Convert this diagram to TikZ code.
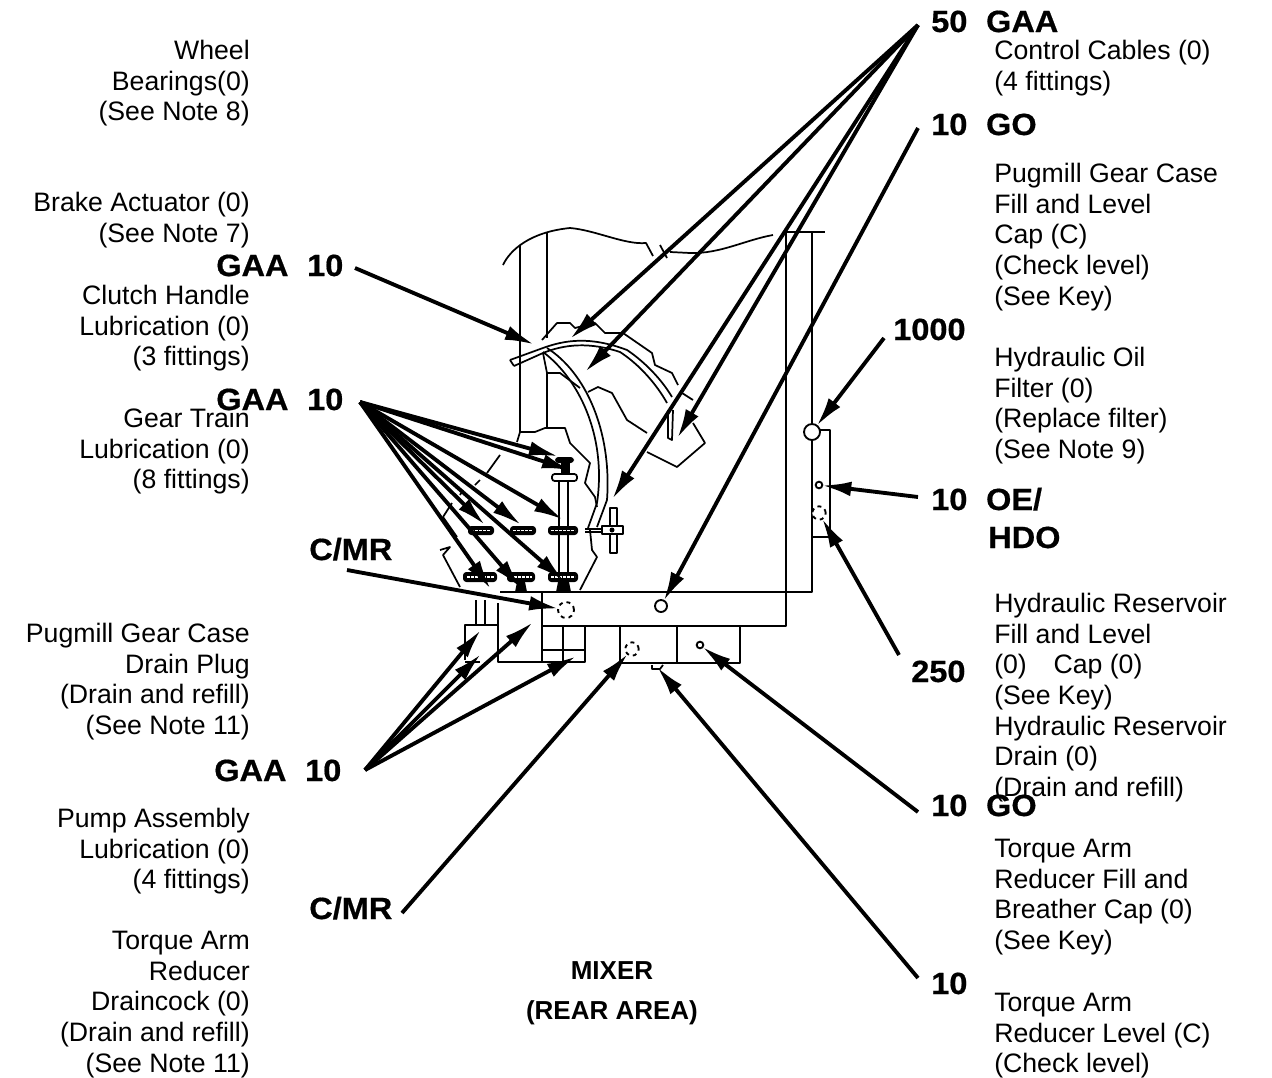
\documentclass[tikz,border=0pt]{standalone}
\usepackage{fontspec}
\setmainfont{Liberation Sans}
\newfontfamily\lubfont[FakeStretch=1.06,FakeBold=0.6]{Liberation Sans Bold}
\usetikzlibrary{arrows.meta,positioning}

\begin{document}
\begin{tikzpicture}[x=0.75pt,y=-0.75pt,
  lbl/.style={inner sep=0pt, font=\fontsize{20}{23}\selectfont},
  lblL/.style={lbl, anchor=north east, align=right},
  lblR/.style={lbl, anchor=north west, align=left},
  lub/.style={inner sep=0pt, anchor=base west, font=\fontsize{23}{26}\lubfont},
  ptr/.style={line width=2.9pt, -{Latex[length=22pt,width=11pt]}, shorten >=-1pt},
  part/.style={line width=1.3pt, line join=round},
  port/.style={draw, circle, line width=1.4pt, inner sep=0pt, fill=white},
  gearbar/.style={fill=black, rounded corners=2.5pt},
  tick/.style={white, line width=0.8pt, dash pattern=on 2pt off 1pt},
]
\useasboundingbox (0,0) rectangle (1272,1078);

% left column
\node[lblL] (wheel) at (250,40) {Wheel\\Bearings(0)\\(See Note 8)};
\node[lblL] (brake) at (250,192) {Brake Actuator (0)\\(See Note 7)};
\node[lblL] (clutch) at (250,285) {Clutch Handle\\Lubrication (0)\\(3 fittings)};
\node[lblL] (train) at (250,408) {Gear Train\\Lubrication (0)\\(8 fittings)};
\node[lblL] (drainPlug) at (250,623) {Pugmill Gear Case\\Drain Plug\\(Drain and refill)\\(See Note 11)};
\node[lblL] (pump) at (250,808) {Pump Assembly\\Lubrication (0)\\(4 fittings)};
\node[lblL] (cock) at (250,931) {Torque Arm\\Reducer\\Draincock (0)\\(Drain and refill)\\(See Note 11)};

% right column
\node[lblR] (cables) at (994,40) {Control Cables (0)\\(4 fittings)};
\node[lblR] (gearCase) at (994,163) {Pugmill Gear Case\\Fill and Level\\Cap (C)\\(Check level)\\(See Key)};
\node[lblR] (oilFilter) at (994,347) {Hydraulic Oil\\Filter (0)\\(Replace filter)\\(See Note 9)};
\node[lblR] (reservoir) at (994,593) {Hydraulic Reservoir\\Fill and Level\\(0)\quad Cap (0)\\(See Key)\\Hydraulic Reservoir\\Drain (0)\\(Drain and refill)};
\node[lblR] (breather) at (994,839) {Torque Arm\\Reducer Fill and\\Breather Cap (0)\\(See Key)};
\node[lblR] (level) at (994,993) {Torque Arm\\Reducer Level (C)\\(Check level)};

\node[inner sep=0pt, align=center, font=\fontsize{19.5}{30}\bfseries\selectfont] (mixer) at (612,993) {MIXER\\(REAR AREA)};

% intervals
\node[lub] (lub50) at (931,32) {50\hspace{14pt}GAA};
\node[lub] (lubGoA) at (931,135) {10\hspace{14pt}GO};
\node[lub] (lub1000) at (893,340) {1000};
\node[lub] (lubOe) at (931,510) {10\hspace{14pt}OE/};
\node[lub] (lubHdo) at (988,548) {HDO};
\node[lub] (lub250) at (911,682) {250};
\node[lub] (lubGoB) at (931,816) {10\hspace{14pt}GO};
\node[lub] (lub10) at (931,994) {10};
\node[lub] (lubGaaA) at (216,276) {GAA\hspace{14pt}10};
\node[lub] (lubGaaB) at (216,410) {GAA\hspace{14pt}10};
\node[lub] (lubGaaC) at (214,781) {GAA\hspace{14pt}10};
\node[lub] (lubMrA) at (309,560) {C/MR};
\node[lub] (lubMrB) at (309,919) {C/MR};

% housing
\draw[part] (503,265) .. controls (510,250) and (530,232) .. (570,228) .. controls (595,230) and (625,245) .. (646,243) -- (653,256);
\draw[part] (660,245) -- (667,258);
\draw[part] (670,252) -- (690,253) .. controls (720,254) and (745,240) .. (773,235);
\draw[part] (783,232) -- (825,232);
\draw[part] (520,245) -- (520,433);
\draw[part] (547,232) -- (547,338);
\draw[part] (547,373) -- (547,428);
\draw[part] (786,232) -- (786,626) -- (542,626);
\draw[part] (812,232) -- (812,592) -- (500,592);
\draw[part] (820,430) -- (830,430) -- (830,537) -- (812,537);

% pugmill band and boxes below it
\draw[part] (542,592) -- (542,662);
\draw[part] (498,603) -- (498,662) -- (585,662) -- (585,626);
\draw[part] (563,626) -- (563,662);
\draw[part] (542,650) -- (585,650);
\draw[part] (465,660) -- (465,625) -- (498,625);
\draw[part] (465,662) -- (480,662);
\draw[part] (476,600) -- (476,625);
\draw[part] (485,600) -- (485,625);
\draw[part] (620,626) -- (620,663) -- (740,663) -- (740,626);
\draw[part] (677,626) -- (677,663);
\draw[part] (652,665) -- (652,669) -- (660,669) -- (663,665);

% shields and torn edges
\draw[part] (542,340) -- (557,323) -- (570,323) -- (575,328) -- (595,323) -- (605,333) -- (623,333) -- (652,353) -- (655,365) -- (672,373) -- (678,385);
\draw[part] (682,393) -- (693,400);
\draw[part] (693,423) -- (705,443) -- (677,467) -- (647,452);
\draw[part] (543,353) -- (547,373) -- (560,373) -- (580,388);
\draw[part] (588,392) -- (598,387) -- (612,393) -- (627,420) -- (647,433);
\draw[part] (517,442) -- (520,432) -- (535,432) -- (545,428) -- (565,428) -- (570,443) -- (590,463) -- (585,483) -- (595,497) -- (597,507);
\draw[part] (590,530) -- (592,550) -- (597,557) -- (580,590);
\draw[part] (500,455) -- (487,473);
\draw[part] (480,480) -- (475,485);
\draw[part] (463,490) -- (460,495);
\draw[part] (452,503) -- (443,517) -- (457,537);
\draw[part] (440,550) -- (450,547) -- (443,555) -- (460,587);

% handle tubes
\draw[part] (510,360) -- (543,348) .. controls (565,340) and (590,336) .. (627,350) .. controls (645,362) and (662,380) .. (672,397);
\draw[part] (514,366) -- (543,353) .. controls (565,344) and (590,342) .. (620,352) .. controls (640,365) and (657,385) .. (667,403);
\draw[part] (510,360) -- (514,366);
\draw[part] (547,348) .. controls (585,372) and (612,430) .. (607,500) -- (597,527);
\draw[part] (543,352) .. controls (578,378) and (607,435) .. (597,503) -- (588,528);
\draw[part] (668,410) -- (668,438) -- (672,440) -- (673,410);

% gear train
\draw[part] (559,482) -- (559,590);
\draw[part] (568,482) -- (568,590);
\draw[part, fill=white, rounded corners=2pt] (552,474) rectangle (577,481);
\fill (561,463) rectangle (570,474);
\fill[gearbar] (555,457) rectangle (574,463);
\fill[gearbar] (548,526) rectangle (578,535);
\fill[gearbar] (510,526) rectangle (536,535);
\fill[gearbar] (468,526) rectangle (494,535);
\fill[gearbar] (463,572) rectangle (497,582);
\fill[gearbar] (507,572) rectangle (535,582);
\fill[gearbar] (548,572) rectangle (578,582);
\draw[tick] (551,530.5) -- (575,530.5);
\draw[tick] (513,530.5) -- (533,530.5);
\draw[tick] (471,530.5) -- (491,530.5);
\draw[tick] (467,577) -- (494,577);
\draw[tick] (510,577) -- (532,577);
\draw[tick] (551,577) -- (575,577);
\fill (517,582) -- (525,582) -- (527,592) -- (515,592) -- cycle;
\fill (558,582) -- (569,582) -- (571,592) -- (556,592) -- cycle;
\draw[part, fill=white] (610,508) rectangle (617,553);
\draw[part, fill=white] (602,526) rectangle (623,534);
\fill (612,530) circle[radius=2.5];
\draw[part] (585,529) -- (602,529);
\draw[part] (585,532) -- (602,532);

% fittings
\node[port, minimum size=12pt] (filterCap) at (812,432) {};
\node[port, minimum size=5pt] (oeFitting) at (819,485) {};
\node[port, dashed, minimum size=10pt] (hduFitting) at (819,513) {};
\node[port, minimum size=9pt] (bandFill) at (661,606) {};
\node[port, dashed, minimum size=12pt] (bandPlug) at (566,610) {};
\node[port, dashed, minimum size=10pt] (drainCock) at (632,649) {};
\node[port, minimum size=5pt] (fillCap) at (700,645) {};

% pointer ends
\coordinate (fanTop) at (918,25);
\coordinate (fanMid) at (360,402);
\coordinate (fanLow) at (365,770);
\coordinate (tipTubeA) at (571,338);
\coordinate (tipTubeB) at (586,371);
\coordinate (tipTubeC) at (613,498);
\coordinate (tipTubeD) at (678,437);
\coordinate (tipBrake) at (533,344);
\coordinate (tipGearA) at (557,456);
\coordinate (tipGearB) at (570,470);
\coordinate (tipGearC) at (562,519);
\coordinate (tipGearD) at (520,524);
\coordinate (tipGearE) at (484,524);
\coordinate (tipGearF) at (490,588);
\coordinate (tipGearG) at (520,587);
\coordinate (tipGearH) at (563,580);
\coordinate (tipPumpA) at (480,631);
\coordinate (tipPumpB) at (480,655);
\coordinate (tipPumpC) at (532,623);
\coordinate (tipPumpD) at (575,657);
\coordinate (tipLevel) at (658,668);

\draw[ptr] (fanTop) -- (tipTubeA);
\draw[ptr] (fanTop) -- (tipTubeB);
\draw[ptr] (fanTop) -- (tipTubeC);
\draw[ptr] (fanTop) -- (tipTubeD);
\coordinate (srcGo) at (918,128);
\draw[ptr] (srcGo) -- (bandFill);
\coordinate (src1000) at (884,338);
\draw[ptr] (src1000) -- (filterCap);
\coordinate (srcOe) at (918,497);
\draw[ptr] (srcOe) -- (oeFitting);
\coordinate (src250) at (899,655);
\draw[ptr] (src250) -- (hduFitting);
\coordinate (srcGoB) at (918,812);
\draw[ptr] (srcGoB) -- (fillCap);
\coordinate (src10) at (918,978);
\draw[ptr] (src10) -- (tipLevel);
\coordinate (srcGaa) at (355,268);
\draw[ptr] (srcGaa) -- (tipBrake);
\draw[ptr] (fanMid) -- (tipGearA);
\draw[ptr] (fanMid) -- (tipGearB);
\draw[ptr] (fanMid) -- (tipGearC);
\draw[ptr] (fanMid) -- (tipGearD);
\draw[ptr] (fanMid) -- (tipGearE);
\draw[ptr] (fanMid) -- (tipGearF);
\draw[ptr] (fanMid) -- (tipGearG);
\draw[ptr] (fanMid) -- (tipGearH);
\coordinate (srcMrA) at (347,570);
\draw[ptr] (srcMrA) -- (bandPlug);
\draw[ptr] (fanLow) -- (tipPumpA);
\draw[ptr] (fanLow) -- (tipPumpB);
\draw[ptr] (fanLow) -- (tipPumpC);
\draw[ptr] (fanLow) -- (tipPumpD);
\coordinate (srcMrB) at (402,913);
\draw[ptr] (srcMrB) -- (drainCock);
\end{tikzpicture}
\end{document}
